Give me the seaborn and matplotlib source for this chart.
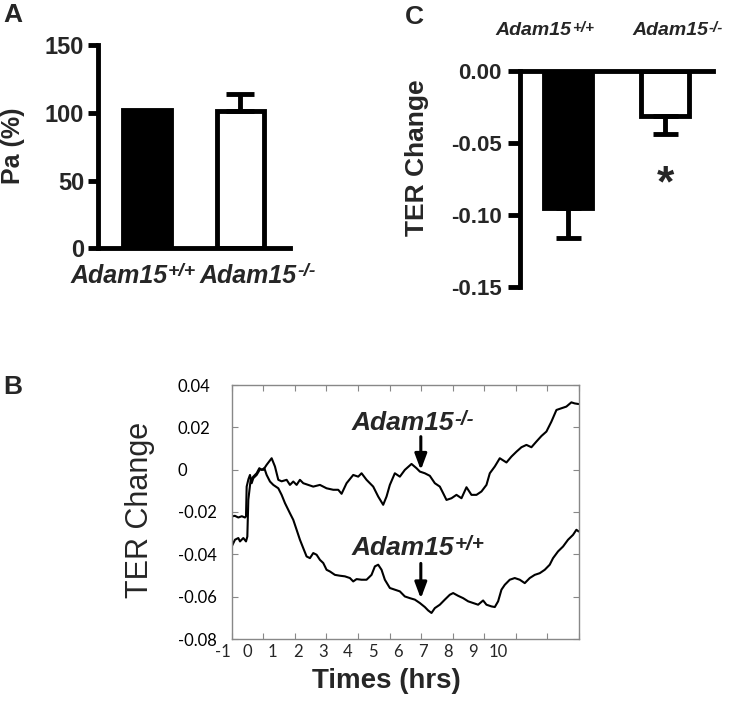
import numpy as np
import pandas as pd
import seaborn as sns
import matplotlib.pyplot as plt

# ---- data ----
genotypes = ['+/+', '-/-']
pa_mean = [102, 101.5]
pa_err = [0, 12]
ter_mean = [-0.095, -0.031]
ter_err = [0.021, 0.013]

# panel B traces (hours, TER change)
wt_hours = [-1.00, -0.896, -0.790, -0.737, -0.632, -0.547, -0.505, -0.474, -0.400, -0.315,
            -0.210, -0.125, -0.052, 0.033, 0.107, 0.212, 0.318, 0.476, 0.581, 0.687,
            0.845, 0.950, 1.056, 1.161, 1.267, 1.372, 1.478, 1.583, 1.689, 1.794,
            1.900, 2.005, 2.111, 2.269, 2.427, 2.585, 2.744, 2.849, 2.955, 3.113,
            3.271, 3.429, 3.535, 3.640, 3.746, 3.851, 4.009, 4.167, 4.326, 4.484,
            4.643, 4.801, 4.959, 5.117, 5.222, 5.328, 5.434, 5.592, 5.750, 5.908,
            6.014, 6.172, 6.330, 6.489, 6.647, 6.805, 6.963, 7.069, 7.227, 7.333,
            7.438, 7.544, 7.649, 7.807, 7.965, 8.124, 8.282, 8.440, 8.598, 8.757,
            8.915, 9.073, 9.178, 9.337, 9.495, 9.653, 9.811, 9.917, 9.99]
wt_ter = [-0.0363, -0.0331, -0.0323, -0.0339, -0.0323, -0.0339, -0.0316, -0.0143, -0.0048, -0.0033,
          -0.0017, 0.0007, -0.0001, 0.0007, -0.0025, -0.0056, -0.0072, -0.0088, -0.0119, -0.0158,
          -0.0206, -0.0237, -0.0284, -0.0331, -0.0371, -0.0410, -0.0418, -0.0394, -0.0402, -0.0426,
          -0.0441, -0.0473, -0.0481, -0.0497, -0.0501, -0.0504, -0.0512, -0.0528, -0.0517, -0.0520,
          -0.0520, -0.0497, -0.0457, -0.0449, -0.0473, -0.0520, -0.0559, -0.0567, -0.0575, -0.0599,
          -0.0607, -0.0614, -0.0630, -0.0649, -0.0665, -0.0677, -0.0654, -0.0638, -0.0614, -0.0591,
          -0.0583, -0.0596, -0.0607, -0.0622, -0.0630, -0.0638, -0.0618, -0.0638, -0.0646, -0.0649,
          -0.0622, -0.0567, -0.0544, -0.0520, -0.0512, -0.0520, -0.0536, -0.0512, -0.0497, -0.0489,
          -0.0473, -0.0449, -0.0418, -0.0386, -0.0363, -0.0331, -0.0308, -0.0284, -0.0292]

ko_hours = [-1.00, -0.90, -0.79, -0.68, -0.58, -0.547, -0.526, -0.47, -0.421, -0.368,
            -0.315, -0.210, -0.104, 0.001, 0.107, 0.265, 0.370, 0.476, 0.581, 0.740,
            0.845, 0.950, 1.056, 1.161, 1.267, 1.425, 1.583, 1.794, 2.005, 2.216,
            2.374, 2.480, 2.638, 2.849, 3.007, 3.113, 3.271, 3.482, 3.640, 3.798,
            3.904, 4.009, 4.167, 4.326, 4.484, 4.695, 4.853, 4.959, 5.117, 5.275,
            5.434, 5.592, 5.697, 5.803, 5.961, 6.119, 6.278, 6.436, 6.594, 6.753,
            6.911, 7.069, 7.175, 7.333, 7.491, 7.702, 7.861, 8.019, 8.177, 8.335,
            8.493, 8.652, 8.810, 8.968, 9.126, 9.285, 9.442, 9.600, 9.758, 9.864, 9.99]
ko_ter = [-0.0221, -0.0218, -0.0226, -0.0220, -0.0226, -0.0221, -0.0080, -0.0045, -0.0025, -0.0064,
          -0.0040, -0.0025, 0.0002, -0.0001, 0.0023, 0.0054, 0.0015, -0.0048, -0.0055, -0.0048,
          -0.0072, -0.0056, -0.0072, -0.0048, -0.0064, -0.0072, -0.0080, -0.0072, -0.0088, -0.0095,
          -0.0095, -0.0114, -0.0064, -0.0025, -0.0033, -0.0017, -0.0048, -0.0080, -0.0127, -0.0166,
          -0.0127, -0.0072, -0.0017, -0.0033, -0.0001, 0.0027, 0.0007, -0.0009, -0.0017, -0.0029,
          -0.0064, -0.0080, -0.0111, -0.0143, -0.0135, -0.0119, -0.0135, -0.0083, -0.0119, -0.0119,
          -0.0103, -0.0072, -0.0017, 0.0015, 0.0054, 0.0034, 0.0062, 0.0085, 0.0106, 0.0117,
          0.0106, 0.0133, 0.0159, 0.0180, 0.0227, 0.0282, 0.0290, 0.0298, 0.0318, 0.0313, 0.0310]

b_yticks = [-0.08, -0.06, -0.04, -0.02, 0, 0.02, 0.04]
b_yticklabels = ['-0.08', '-0.06', '-0.04', '-0.02', '0', '0.02', '0.04']
b_xticklabels = ['-1', '0', '1', '2', '3', '4', '5', '6', '7', '8', '9', '10']

# ---- style ----
sns.set_theme(style='ticks')
plt.rcParams['font.family'] = ['Liberation Sans', 'DejaVu Sans']

W, H = 750, 701
fig = plt.figure(figsize=(7.5, 7.01), dpi=100)


def px_axes(left, top, right, bottom):
    return fig.add_axes([left / W, 1 - bottom / H, (right - left) / W, (bottom - top) / H])


def genotype_text(ax, x, y, sup, size, transform):
    """Adam15 in bold italic with a raised genotype superscript."""
    base = ax.text(x, y, 'Adam15', transform=transform, fontsize=size, fontweight='bold',
                   style='italic', ha='left', va='baseline', clip_on=False)
    ax.annotate(sup, xy=(1, 1), xycoords=base, xytext=(0.5, 1), textcoords='offset points',
                fontsize=size * 0.78, fontweight='bold', style='italic', ha='left', va='top',
                annotation_clip=False)


thick = 3.5

# ---- panel A ----
axA = px_axes(98, 44.9, 290, 248.3)
dfA = pd.DataFrame({'geno': genotypes, 'pa': pa_mean})
sns.barplot(data=dfA, x='geno', y='pa', hue='geno', palette=['black', 'white'],
            edgecolor='black', linewidth=thick, width=0.51, errorbar=None,
            legend=False, ax=axA)
axA.errorbar([1], [pa_mean[1]], yerr=[[0], [pa_err[1]]], fmt='none', ecolor='black',
             elinewidth=thick, capsize=10, capthick=thick, zorder=1)
axA.set_xlim(-0.524, 1.53)
axA.set_ylim(0, 150)
axA.set_yticks([0, 50, 100, 150])
axA.set_xticks([])
axA.set_xlabel('')
axA.set_ylabel('Pa (%)', fontsize=18, fontweight='bold', va='center')
axA.yaxis.set_label_coords(-0.445, 0.505)
for s in ['top', 'right']:
    axA.spines[s].set_visible(False)
for s in ['left', 'bottom']:
    axA.spines[s].set_linewidth(thick)
    axA.spines[s].set_color('black')
axA.tick_params(axis='y', length=7, width=thick, color='black', labelsize=17, pad=3)
for lab in axA.get_yticklabels():
    lab.set_fontweight('bold')
for xpos, sup in zip([-0.82, 0.567], genotypes):
    genotype_text(axA, xpos, -0.171, sup, 18, axA.get_xaxis_transform())

# ---- panel C ----
axC = px_axes(520, 71, 713.3, 287.3)
dfC = pd.DataFrame({'geno': genotypes, 'ter': ter_mean})
sns.barplot(data=dfC, x='geno', y='ter', hue='geno', palette=['black', 'white'],
            edgecolor='black', linewidth=thick, width=0.5, errorbar=None,
            legend=False, ax=axC)
axC.errorbar([0, 1], ter_mean, yerr=[ter_err, [0, 0]], fmt='none', ecolor='black',
             elinewidth=thick, capsize=9, capthick=thick, zorder=1)
axC.set_xlim(-0.5, 1.5)
axC.set_ylim(-0.15, 0)
axC.set_yticks([-0.15, -0.10, -0.05, 0.0])
axC.set_yticklabels(['-0.15', '-0.10', '-0.05', '0.00'])
axC.set_xticks([])
axC.set_xlabel('')
axC.set_ylabel('TER Change', fontsize=19, fontweight='bold', va='center')
axC.yaxis.set_label_coords(-0.535, 0.6)
for s in ['bottom', 'right']:
    axC.spines[s].set_visible(False)
for s in ['left', 'top']:
    axC.spines[s].set_linewidth(thick)
    axC.spines[s].set_color('black')
axC.tick_params(axis='y', length=9, width=thick, color='black', labelsize=16, pad=4)
for lab in axC.get_yticklabels():
    lab.set_fontweight('bold')
for xpos, sup in zip([-0.758, 0.659], genotypes):
    genotype_text(axC, xpos, 1.166, sup, 14, axC.get_xaxis_transform())
axC.text(1, -0.087, '*', ha='center', va='baseline', fontsize=32, fontweight='bold')

# ---- panel B ----
axB = px_axes(231.7, 385, 579, 639)
dfB = pd.concat([
    pd.DataFrame({'hours': wt_hours, 'ter': wt_ter, 'genotype': 'WT'}),
    pd.DataFrame({'hours': ko_hours, 'ter': ko_ter, 'genotype': 'KO'}),
])
sns.lineplot(data=dfB, x='hours', y='ter', hue='genotype', palette=['black', 'black'],
             estimator=None, sort=False, legend=False, linewidth=1.5, ax=axB)
axB.set_xlim(-1, 10)
axB.set_ylim(-0.08, 0.04)
axB.set_xticks(range(-1, 11))
axB.set_yticks(b_yticks)
axB.set_yticklabels(b_yticklabels)
axB.tick_params(axis='both', direction='in', length=4, width=0.8, color='#888888',
                top=True, right=True, labelbottom=False)
axB.tick_params(axis='y', labelsize=12, pad=39, labelcolor='black')
for lab in axB.get_yticklabels():
    lab.set_horizontalalignment('left')
    lab.set_family(['Lato', 'DejaVu Sans'])
for s in axB.spines.values():
    s.set_color('#888888')
    s.set_linewidth(1.0)
axB.set_xlabel('Times (hrs)', fontsize=20, fontweight='bold')
axB.xaxis.set_label_coords(0.446, -0.115)
axB.set_ylabel('TER Change', fontsize=22)
axB.yaxis.set_label_coords(-0.221, 0.51)
for i, lab in enumerate(b_xticklabels):
    axB.text(-0.026 + 0.0721 * i, -0.05, lab, transform=axB.transAxes, ha='center',
             va='center', fontsize=12, family=['Lato', 'DejaVu Sans'], clip_on=False)

arrow = dict(arrowstyle='-|>,head_width=0.3,head_length=0.8', color='black', lw=2.2,
             mutation_scale=12, shrinkA=0, shrinkB=0)
genotype_text(axB, 2.797, 0.0187, genotypes[1], 19, axB.transData)
axB.annotate('', xy=(4.99, -0.0002), xytext=(4.99, 0.0156), arrowprops=arrow)
genotype_text(axB, 2.797, -0.0404, genotypes[0], 19, axB.transData)
axB.annotate('', xy=(4.99, -0.0609), xytext=(4.99, -0.0443), arrowprops=arrow)

# panel letters
for letter, x, y in [('A', 3, 3), ('C', 405, 5), ('B', 3, 375)]:
    fig.text(x / W, 1 - y / H, letter, fontsize=19, fontweight='bold', ha='left', va='top')

fig.savefig('out.png', dpi=100)
